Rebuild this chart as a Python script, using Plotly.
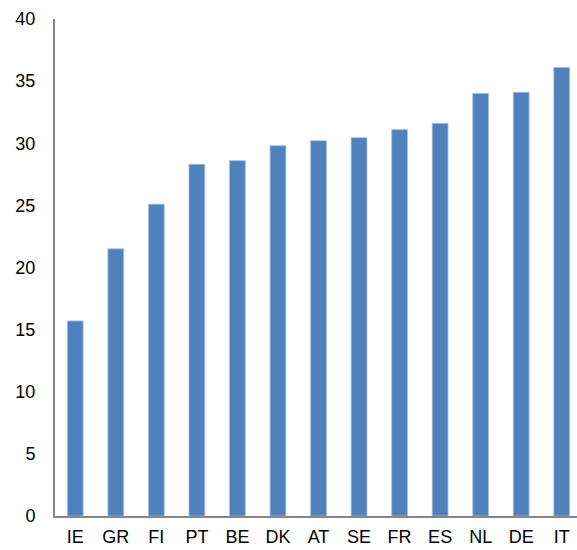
import plotly.graph_objects as go

countries = ['IE', 'GR', 'FI', 'PT', 'BE', 'DK', 'AT', 'SE', 'FR', 'ES', 'NL', 'DE', 'IT']
values = [15.7, 21.5, 25.1, 28.3, 28.6, 29.8, 30.2, 30.45, 31.1, 31.6, 34.0, 34.1, 36.1]
y_ticks = [0, 5, 10, 15, 20, 25, 30, 35, 40]

fig = go.Figure()
fig.add_trace(go.Bar(x=countries, y=values, width=0.39,
                     marker=dict(color='#4F81BD', line=dict(color='#A7BFDE', width=0.8))))

# the original chart runs a few pixels past the right edge of the window
fig.update_layout(
    width=582, height=550,
    margin=dict(l=55, r=0, t=19, b=34),
    plot_bgcolor='white', paper_bgcolor='white',
    showlegend=False,
    font=dict(family='Liberation Sans, Arial', size=18, color='black'),
)
fig.update_xaxes(showline=True, linecolor='#868686', linewidth=2, ticks='', showgrid=False,
                 ticklabelstandoff=3, tickfont=dict(size=18))
fig.update_yaxes(range=[0, 40], tickvals=y_ticks, showline=True, linecolor='#868686', linewidth=2,
                 ticks='', showgrid=False, zeroline=False, ticklabelstandoff=14,
                 tickfont=dict(size=18))

# drop the default body margin so the chart sits at the window corner
fig.write_html("out.html", config={'displayModeBar': False},
               post_script="document.body.style.margin='0px';document.body.style.overflow='hidden';")
